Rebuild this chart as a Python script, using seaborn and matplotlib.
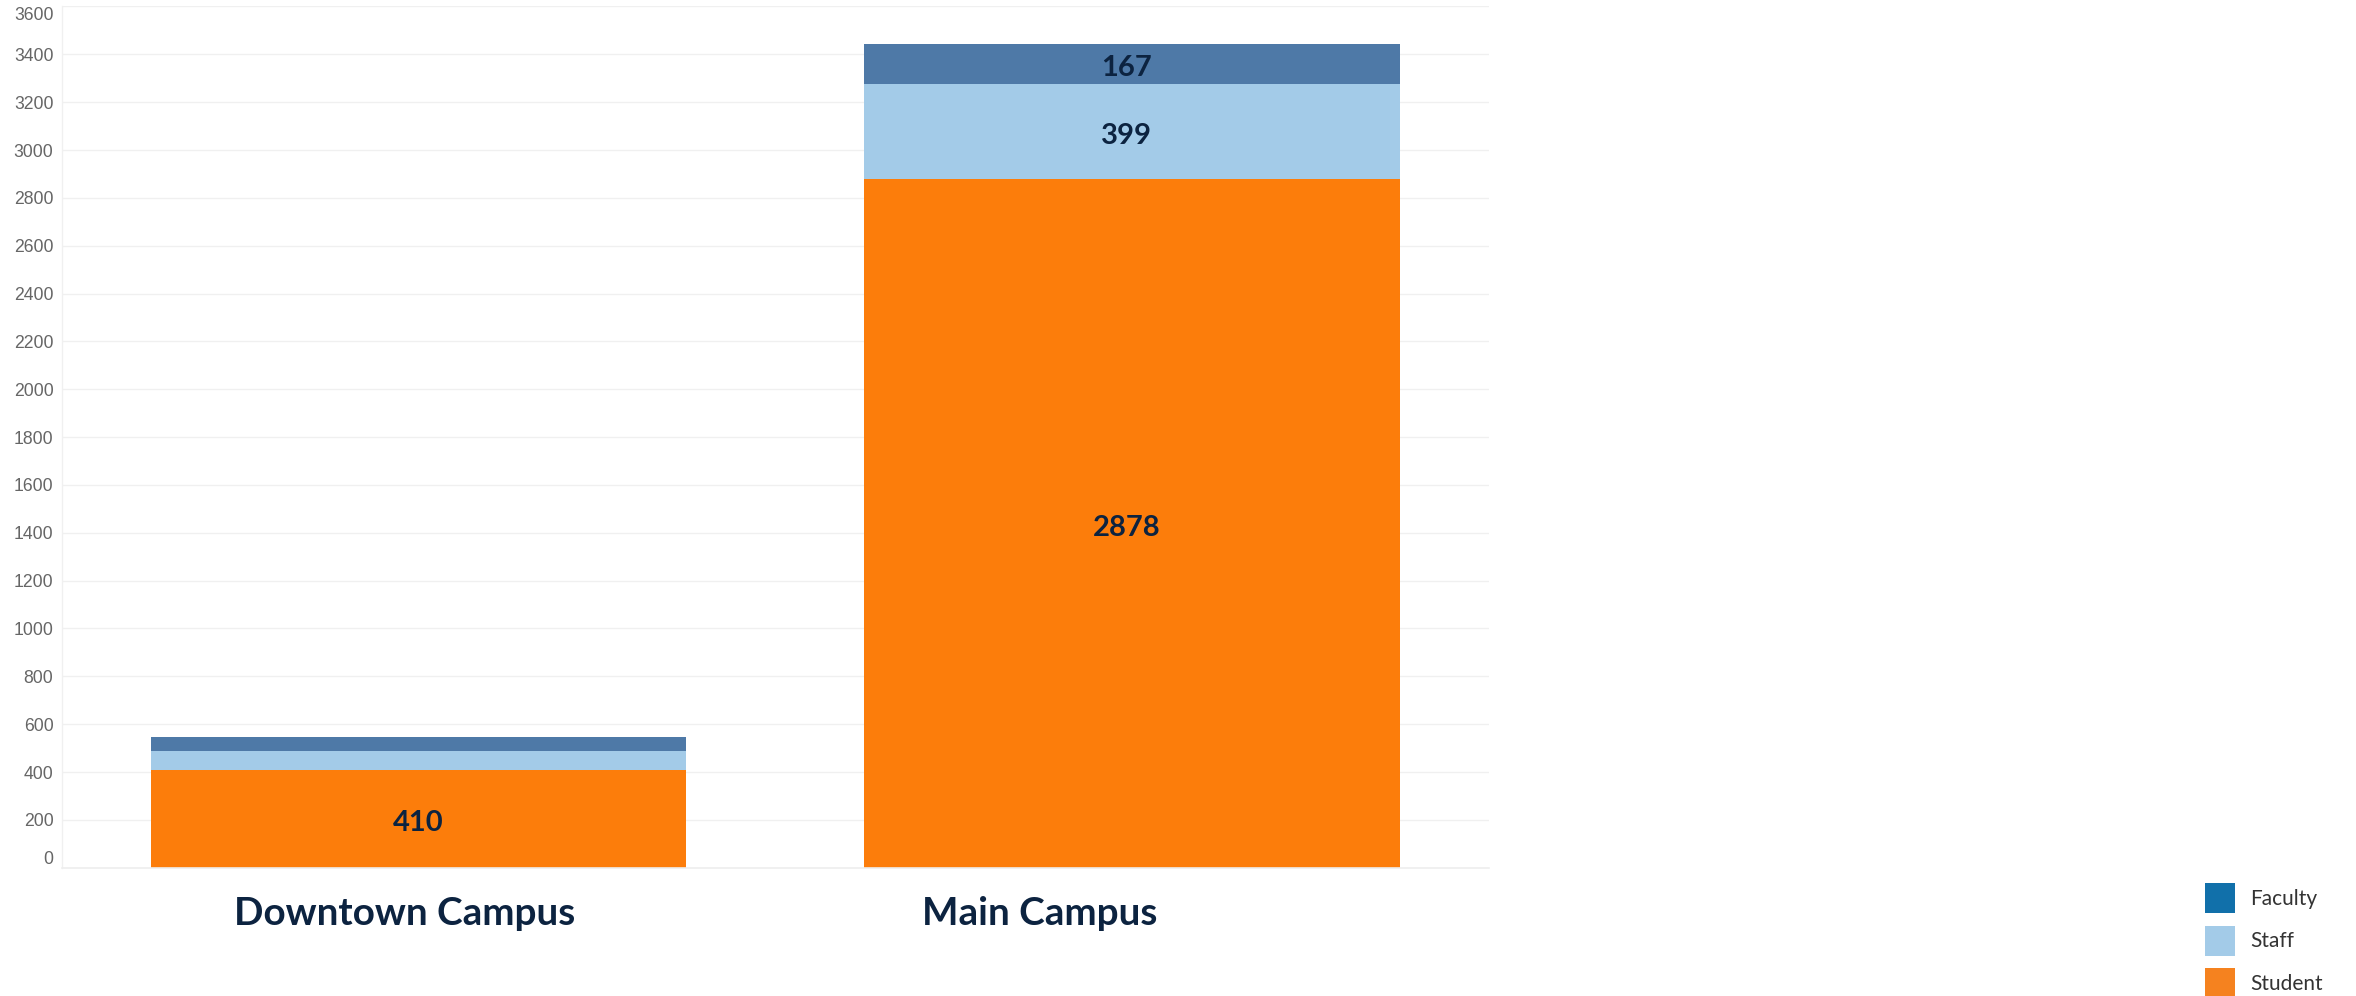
import matplotlib
matplotlib.use('Agg')
import matplotlib.pyplot as plt
import matplotlib.transforms as mtransforms
from matplotlib.patches import Patch
import seaborn as sns
import pandas as pd
import numpy as np

# Data
campuses = ['Downtown Campus', 'Main Campus']
student = [410, 2878]
staff = [78, 399]
faculty = [58, 167]
groups = ['Faculty', 'Staff', 'Student']

# Colors: bars use a softer faculty blue than the legend swatch
bar_colors = {'Faculty': '#4e79a7', 'Staff': '#a3cbe8', 'Student': '#fc7d0b'}
legend_colors = {'Faculty': '#1170aa', 'Staff': '#a3cbe8', 'Student': '#f5821f'}
navy = '#0c2340'

sns.set_theme(style='whitegrid')
plt.rcParams['font.family'] = ['Lato', 'DejaVu Sans']

df = pd.DataFrame({'campus': campuses, 'Student': student, 'Staff': staff, 'Faculty': faculty})
df['top_staff'] = df['Student'] + df['Staff']
df['top_faculty'] = df['top_staff'] + df['Faculty']

fig = plt.figure(figsize=(23.56, 9.96), dpi=100)
ax = fig.add_axes([0.0262, 0.1288, 0.6057, 0.8647])

# Layered bars to give a stacked look (tallest drawn first)
sns.barplot(data=df, x='campus', y='top_faculty', color=bar_colors['Faculty'],
            saturation=1, linewidth=0, width=0.75, ax=ax)
sns.barplot(data=df, x='campus', y='top_staff', color=bar_colors['Staff'],
            saturation=1, linewidth=0, width=0.75, ax=ax)
sns.barplot(data=df, x='campus', y='Student', color=bar_colors['Student'],
            saturation=1, linewidth=0, width=0.75, ax=ax)

# Segment value labels, only where the segment is tall enough
bottoms = np.zeros(len(campuses))
for g in ['Student', 'Staff', 'Faculty']:
    vals = df[g].to_numpy()
    for i, v in enumerate(vals):
        if v >= 100:
            ax.annotate(f'{v}', (i, bottoms[i] + v / 2), xytext=(-4 * i, -3),
                        textcoords='offset points', ha='center', va='center',
                        fontsize=21, fontweight='bold', color=navy)
    bottoms = bottoms + vals

ax.set_ylim(0, 3600)
ax.set_xlim(-0.5, 1.5)
ax.set_yticks(np.arange(0, 3601, 200))
ax.set_xlabel('')
ax.set_ylabel('')

ax.yaxis.grid(True, color='#f0f0f0', linewidth=1)
ax.xaxis.grid(False)
ax.set_axisbelow(True)
for s in ['top', 'right']:
    ax.spines[s].set_visible(False)
ax.spines['left'].set_color('#f0f0f0')
ax.spines['left'].set_linewidth(1)
ax.spines['bottom'].set_color('#eeeeee')
ax.spines['bottom'].set_linewidth(1.2)

ax.tick_params(axis='y', length=0, pad=6, labelsize=12.7, labelcolor='#666666')
for lbl in ax.get_yticklabels():
    lbl.set_family(['Liberation Sans', 'DejaVu Sans'])
# keep the end labels inside the plot like the reference
ylabels = ax.get_yticklabels()
ylabels[0].set_transform(ylabels[0].get_transform() + mtransforms.ScaledTranslation(0, 10 / 100, fig.dpi_scale_trans))
ylabels[-1].set_transform(ylabels[-1].get_transform() + mtransforms.ScaledTranslation(0, -7.5 / 100, fig.dpi_scale_trans))

# Category labels drawn as text (they sit a little left of the bar centres)
ax.set_xticks([])
label_shift = [-0.02, -0.13]
trans = mtransforms.blended_transform_factory(ax.transData, ax.transAxes)
for i, name in enumerate(campuses):
    ax.text(i + label_shift[i], -0.0665, name, transform=trans, ha='center', va='baseline',
            fontsize=27.8, fontweight='bold', color=navy)

handles = [Patch(facecolor=legend_colors[g], edgecolor='none', label=g) for g in groups]
fig.legend(handles=handles, loc='upper left', bbox_to_anchor=(2205 / 2356, 0.1132),
           frameon=False, fontsize=15, handlelength=1.44, handleheight=1.84,
           handletextpad=0.72, labelspacing=0.6, borderpad=0, borderaxespad=0,
           labelcolor='#333333')

fig.savefig('out.png', dpi=100)
plt.close(fig)
